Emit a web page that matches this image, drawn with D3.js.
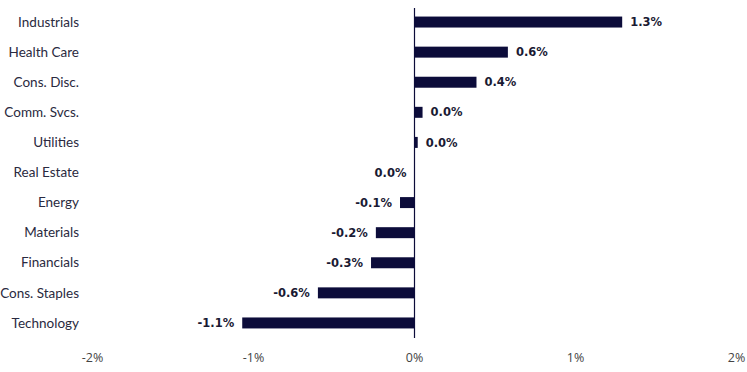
<!DOCTYPE html>
<html>
<head>
<meta charset="utf-8">
<script src="https://cdn.jsdelivr.net/npm/d3@7"></script>
<style>
  body { margin: 0; background: #fff; }
  svg { display: block; }
</style>
</head>
<body>
<svg id="chart"></svg>
<script>
const sectors = ['Industrials', 'Health Care', 'Cons. Disc.', 'Comm. Svcs.', 'Utilities', 'Real Estate',
  'Energy', 'Materials', 'Financials', 'Cons. Staples', 'Technology'];
const returns = [1.29, 0.58, 0.385, 0.05, 0.02, 0.0, -0.09, -0.24, -0.27, -0.6, -1.07];
const labels = ['1.3%', '0.6%', '0.4%', '0.0%', '0.0%', '0.0%', '-0.1%', '-0.2%', '-0.3%', '-0.6%', '-1.1%'];
const ticks = [-2, -1, 0, 1, 2];

const width = 747, height = 372;
const svg = d3.select('#chart').attr('width', width).attr('height', height);

const x = d3.scaleLinear().domain([-2, 2]).range([92.5, 736.5]);
const y = d3.scaleBand().domain(sectors).range([7, 338]).paddingInner(0.635).paddingOuter(0.3175);

const navy = '#0c0c3a';

// bars
svg.selectAll('.bar')
  .data(sectors)
  .enter().append('rect')
  .attr('class', 'bar')
  .attr('x', (d, i) => x(Math.min(0, returns[i])))
  .attr('y', d => y(d))
  .attr('width', (d, i) => Math.abs(x(returns[i]) - x(0)))
  .attr('height', y.bandwidth())
  .attr('fill', navy);

// zero line
svg.append('line')
  .attr('x1', x(0)).attr('x2', x(0))
  .attr('y1', 8).attr('y2', 338)
  .attr('stroke', navy).attr('stroke-width', 1.2);

// value labels
svg.selectAll('.val')
  .data(sectors)
  .enter().append('text')
  .attr('class', 'val')
  .attr('x', (d, i) => returns[i] > 0 ? x(returns[i]) + 8 : x(Math.min(0, returns[i])) - 8)
  .attr('y', d => y(d) + y.bandwidth() / 2)
  .attr('dy', '0.36em')
  .attr('text-anchor', (d, i) => returns[i] > 0 ? 'start' : 'end')
  .style('font-family', 'DejaVu Sans, Verdana, sans-serif')
  .style('font-weight', 'bold')
  .style('font-size', '11.5px')
  .attr('fill', '#1a1a33')
  .text((d, i) => labels[i]);

// category labels
svg.selectAll('.cat')
  .data(sectors)
  .enter().append('text')
  .attr('class', 'cat')
  .attr('x', 79)
  .attr('y', d => y(d) + y.bandwidth() / 2)
  .attr('dy', '0.35em')
  .attr('text-anchor', 'end')
  .style('font-family', 'Lato, "Noto Sans", sans-serif')
  .style('font-size', '13.5px')
  .attr('fill', '#2a2a40')
  .text(d => d);

// x axis tick labels
svg.selectAll('.tick')
  .data(ticks)
  .enter().append('text')
  .attr('class', 'tick')
  .attr('x', d => x(d))
  .attr('y', 358)
  .attr('dy', '0.35em')
  .attr('text-anchor', 'middle')
  .style('font-family', '"Open Sans", sans-serif')
  .style('font-size', '12.5px')
  .attr('fill', '#444')
  .text(d => d + '%');
</script>
</body>
</html>
